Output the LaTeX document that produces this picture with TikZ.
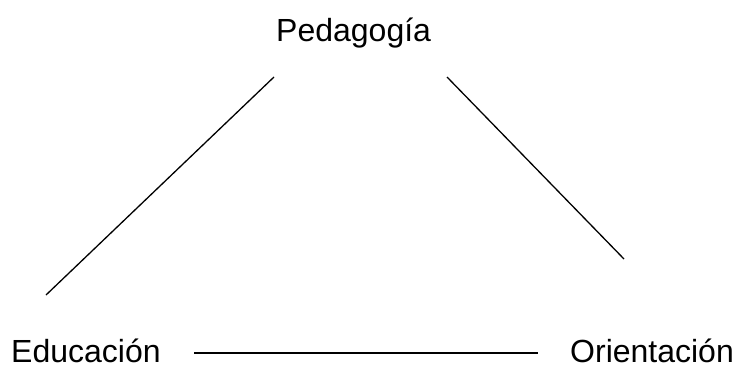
\documentclass[tikz,border=0pt]{standalone}
\usepackage{fontspec}
\setmainfont{Liberation Sans}
\usepackage{tikz}
\usetikzlibrary{positioning,calc}
\tikzset{
  term/.style={inner sep=0pt, anchor=base west, font=\fontsize{32}{36}\selectfont},
  link/.style={line width=1.3pt, black},
}

\begin{document}
\begin{tikzpicture}[x=1pt, y=-1pt]
\useasboundingbox (0,0) rectangle (744,369);
% the three terms
\node[term] (ped) at (276,42) {Pedagogía};
\node[term] (edu) at (11,362) {Educación};
\node[term] (ori) at (570,362) {Orientación};
% free ends of the links
\coordinate (pedL) at (274,77);
\coordinate (pedR) at (447,77);
\coordinate (eduT) at (46,295);
\coordinate (oriT) at (624,259);
\coordinate (eduR) at (194,353);
\coordinate (oriL) at (538,353);
% links
\draw[link] (eduT) -- (pedL);
\draw[link] (pedR) -- (oriT);
\draw[link] (eduR) -- (oriL);
\end{tikzpicture}
\end{document}
